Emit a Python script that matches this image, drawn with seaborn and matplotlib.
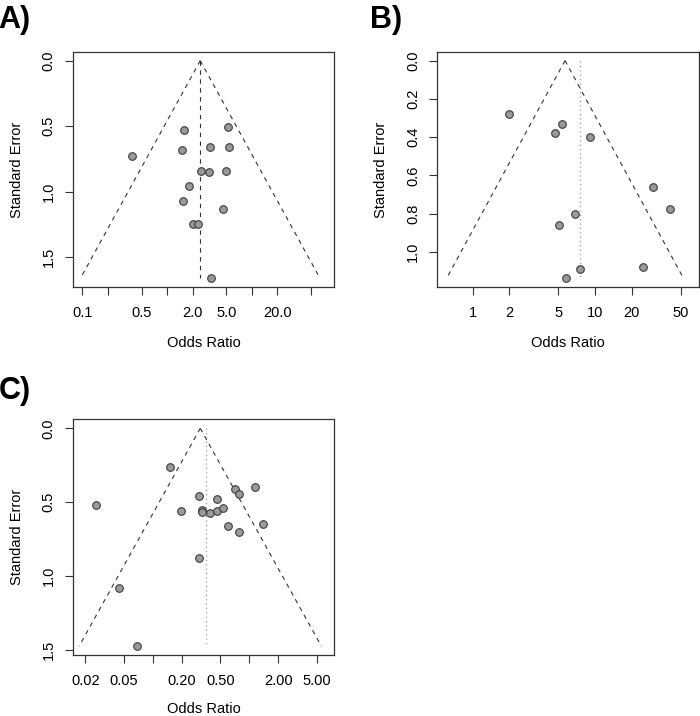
import numpy as np
import pandas as pd
import matplotlib
matplotlib.use("Agg")
import matplotlib.pyplot as plt
import seaborn as sns

sns.set_style("white")
plt.rcParams['font.family'] = ['Liberation Sans', 'DejaVu Sans']
plt.rcParams['text.color'] = 'black'
plt.rcParams['axes.labelcolor'] = 'black'

# ---------------- data ----------------
# Panel A
a_or = [1.58, 5.30, 1.49, 3.22, 5.40, 0.385, 2.52, 3.13, 4.93, 1.81, 1.52, 4.51, 2.03, 2.33, 3.28]
a_se = [0.530, 0.505, 0.678, 0.660, 0.655, 0.726, 0.845, 0.848, 0.838, 0.954, 1.071, 1.135, 1.246, 1.246, 1.660]
a_center = 2.46
a_ref = 2.46
a_xticks = [0.1, 0.2, 0.5, 1, 2, 5, 10, 20, 50]
a_xlabels = ["0.1", "", "0.5", "", "2.0", "5.0", "", "20.0", ""]
a_yticks = [0.0, 0.5, 1.0, 1.5]
a_ylabels = ["0.0", "0.5", "1.0", "1.5"]

# Panel B
b_or = [1.99, 5.34, 4.71, 9.10, 30.0, 41.3, 6.87, 5.08, 24.7, 7.59, 5.76]
b_se = [0.277, 0.330, 0.379, 0.398, 0.659, 0.776, 0.803, 0.857, 1.078, 1.089, 1.137]
b_center = 5.69
b_ref = 7.59
b_xticks = [1, 2, 5, 10, 20, 50]
b_xlabels = ["1", "2", "5", "10", "20", "50"]
b_yticks = [0.0, 0.2, 0.4, 0.6, 0.8, 1.0]
b_ylabels = ["0.0", "0.2", "0.4", "0.6", "0.8", "1.0"]

# Panel C
c_or = [0.151, 0.0256, 0.298, 0.195, 0.325, 0.323, 0.388, 0.458, 0.466, 0.533,
        0.716, 0.782, 1.15, 0.601, 0.787, 1.40, 0.303, 0.0444, 0.0693]
c_se = [0.262, 0.521, 0.456, 0.562, 0.553, 0.564, 0.573, 0.562, 0.480, 0.541,
        0.413, 0.444, 0.397, 0.661, 0.699, 0.645, 0.875, 1.078, 1.475]
c_center = 0.31
c_ref = 0.358
c_xticks = [0.02, 0.05, 0.1, 0.2, 0.5, 1, 2, 5]
c_xlabels = ["0.02", "0.05", "", "0.20", "0.50", "", "2.00", "5.00"]
c_yticks = [0.0, 0.5, 1.0, 1.5]
c_ylabels = ["0.0", "0.5", "1.0", "1.5"]

# ---------------- figure ----------------
fig = plt.figure(figsize=(7.0, 7.16), dpi=100)
W, H = 700.0, 716.0


def make_ax(x0, y0, x1, y1):
    return fig.add_axes([x0 / W, 1 - y1 / H, (x1 - x0) / W, (y1 - y0) / H])


def funnel(ax, ors, ses, center, ref, ref_style, xticks, xlabels, yticks, ylabels, xlim, ylim, xlabelpad=12):
    df = pd.DataFrame({"OR": ors, "SE": ses})
    semax = max(ses)
    se_line = np.array([0.0, semax])
    lc = np.log(center)
    left = np.exp(lc - 1.96 * se_line)
    right = np.exp(lc + 1.96 * se_line)
    ax.plot(left, se_line, color="#333333", lw=0.8, ls=(0, (4, 4)), zorder=2)
    ax.plot(right, se_line, color="#333333", lw=0.8, ls=(0, (4, 4)), zorder=2)
    if ref_style == "dashed":
        ax.plot([ref, ref], [0, semax], color="#333333", lw=0.8, ls=(0, (4, 4)), zorder=2)
    else:
        ax.plot([ref, ref], [0, semax], color="#9a9a9a", lw=0.9, ls=(0, (1, 2.5)), zorder=2)
    sns.scatterplot(data=df, x="OR", y="SE", ax=ax, s=30, color="#9a9a9a",
                    edgecolor="#3a3a3a", linewidth=0.8, zorder=3, legend=False)
    ax.set_xscale("log")
    ax.set_xlim(*xlim)
    ax.set_ylim(*ylim)
    ax.set_xticks(xticks)
    ax.set_xticklabels(xlabels)
    ax.xaxis.set_minor_locator(matplotlib.ticker.NullLocator())
    ax.set_yticks(yticks)
    ax.set_yticklabels(ylabels, rotation=90, va="center")
    ax.tick_params(axis="both", which="major", bottom=True, left=True, top=False, right=False,
                   direction="out", length=5.5, width=0.8,
                   color="#333333", labelsize=10.5, labelcolor="black")
    ax.tick_params(axis="x", pad=8)
    ax.tick_params(axis="y", pad=7)
    for s in ax.spines.values():
        s.set_visible(True)
        s.set_color("#333333")
        s.set_linewidth(0.9)
    ax.set_xlabel("Odds Ratio", fontsize=10.5, labelpad=xlabelpad, color="black")
    ax.set_ylabel("Standard Error", fontsize=10.5, labelpad=13, color="black")
    ax.grid(False)


axA = make_ax(73, 52, 334, 287)
funnel(axA, a_or, a_se, a_center, a_ref, "dashed", a_xticks, a_xlabels, a_yticks, a_ylabels,
       (10 ** -1.110, 10 ** 1.969), (1.726, -0.066))

axB = make_ax(437.3, 52, 698.5, 287)
funnel(axB, b_or, b_se, b_center, b_ref, "dotted", b_xticks, b_xlabels, b_yticks, b_ylabels,
       (10 ** -0.289, 10 ** 1.846), (1.183, -0.045))

axC = make_ax(73, 419.3, 655 - 0 + (334 - 655), 655) if False else make_ax(73, 419.3, 334, 655)
funnel(axC, c_or, c_se, c_center, c_ref, "dotted", c_xticks, c_xlabels, c_yticks, c_ylabels,
       (10 ** -1.827, 10 ** 0.877), (1.534, -0.061), xlabelpad=10)

fig.text(-0.002, 1 - 20 / H, "A)", fontsize=22, fontweight="bold", ha="left", va="center", color="black")
fig.text(370 / W, 1 - 20 / H, "B)", fontsize=22, fontweight="bold", ha="left", va="center", color="black")
fig.text(-0.002, 1 - 391 / H, "C)", fontsize=22, fontweight="bold", ha="left", va="center", color="black")

fig.savefig("out.png", dpi=100, facecolor="white")
